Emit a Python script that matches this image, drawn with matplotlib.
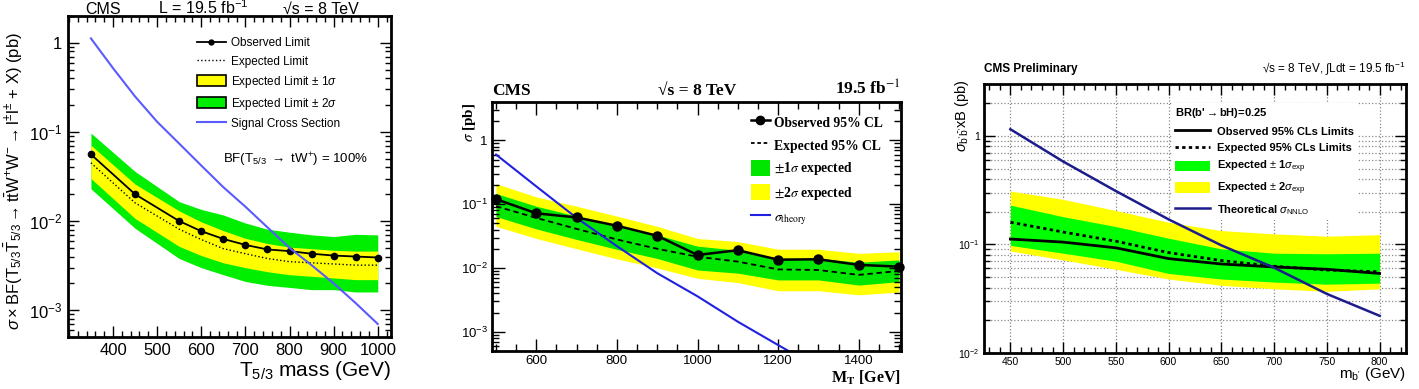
import numpy as np
import matplotlib
matplotlib.use('Agg')
import matplotlib.pyplot as plt
from matplotlib.lines import Line2D
from matplotlib.patches import Patch
from matplotlib.ticker import FuncFormatter, LogLocator, MultipleLocator, NullFormatter

plt.rcParams['font.family'] = ['Liberation Sans', 'DejaVu Sans']
plt.rcParams['mathtext.fontset'] = 'custom'
plt.rcParams['mathtext.rm'] = 'Liberation Sans'
plt.rcParams['mathtext.it'] = 'Liberation Sans:italic'
plt.rcParams['mathtext.bf'] = 'Liberation Sans:bold'

# --- left panel: T5/3 limits
t53_mass = [350, 450, 550, 600, 650, 700, 750, 800, 850, 900, 950, 1000]
t53_obs = [0.056, 0.020, 0.010, 0.0077, 0.0063, 0.0054, 0.0048, 0.0046, 0.0043, 0.0041, 0.0040, 0.0039]
t53_exp = [0.045, 0.016, 0.0081, 0.0062, 0.0049, 0.0043, 0.0038, 0.0035, 0.0034, 0.0033, 0.0032, 0.0032]
t53_1s_hi = [0.071, 0.026, 0.013, 0.0098, 0.0078, 0.0064, 0.0056, 0.0051, 0.0049, 0.0047, 0.0046, 0.0046]
t53_1s_lo = [0.030, 0.0107, 0.0052, 0.0041, 0.0034, 0.0030, 0.0027, 0.0025, 0.0024, 0.0023, 0.0022, 0.0022]
t53_2s_hi = [0.097, 0.036, 0.0165, 0.0135, 0.0117, 0.0095, 0.0081, 0.0075, 0.0070, 0.0067, 0.0071, 0.0070]
t53_2s_lo = [0.023, 0.0083, 0.0038, 0.0030, 0.0025, 0.0021, 0.0019, 0.0018, 0.0017, 0.0017, 0.0016, 0.0016]
t53_sig_mass = [350, 400, 450, 500, 550, 600, 650, 700, 750, 800, 850, 900, 950, 1000]
t53_sig = [1.12, 0.52, 0.25, 0.13, 0.074, 0.042, 0.024, 0.0145, 0.0085, 0.0050, 0.0032, 0.0020, 0.0012, 0.0007]

# --- middle panel: MT limits
mt = [500, 600, 700, 800, 900, 1000, 1100, 1200, 1300, 1400, 1500]
mt_obs = [0.12, 0.072, 0.062, 0.046, 0.032, 0.016, 0.019, 0.0135, 0.0137, 0.0112, 0.0105]
mt_exp = [0.093, 0.061, 0.041, 0.028, 0.020, 0.015, 0.0126, 0.0095, 0.0093, 0.0078, 0.0090]
mt_1s_hi = [0.147, 0.093, 0.065, 0.045, 0.033, 0.022, 0.019, 0.0142, 0.0142, 0.0123, 0.0134]
mt_1s_lo = [0.064, 0.041, 0.028, 0.0196, 0.0141, 0.0093, 0.0083, 0.0065, 0.0065, 0.0054, 0.0061]
mt_2s_hi = [0.21, 0.13, 0.093, 0.065, 0.045, 0.029, 0.026, 0.0197, 0.0197, 0.017, 0.018]
mt_2s_lo = [0.045, 0.029, 0.020, 0.0139, 0.010, 0.0069, 0.0059, 0.0044, 0.0044, 0.0038, 0.0042]
mt_th_mass = [500, 600, 700, 800, 900, 1000, 1100, 1200, 1300]
mt_th = [0.60, 0.19, 0.061, 0.022, 0.0083, 0.0036, 0.00144, 0.00062, 0.00027]

# --- right panel: b' limits
mb = [450, 500, 550, 600, 650, 700, 750, 800]
mb_obs = [0.112, 0.105, 0.093, 0.074, 0.066, 0.062, 0.059, 0.054]
mb_exp = [0.16, 0.13, 0.107, 0.084, 0.071, 0.063, 0.058, 0.056]
mb_1s_hi = [0.23, 0.18, 0.146, 0.114, 0.091, 0.083, 0.082, 0.083]
mb_1s_lo = [0.098, 0.083, 0.070, 0.054, 0.048, 0.045, 0.043, 0.044]
mb_2s_hi = [0.31, 0.26, 0.205, 0.16, 0.134, 0.125, 0.119, 0.123]
mb_2s_lo = [0.087, 0.072, 0.059, 0.048, 0.042, 0.039, 0.037, 0.039]
mb_th = [1.15, 0.58, 0.31, 0.17, 0.098, 0.061, 0.035, 0.022]

W, H = 1419, 389
fig = plt.figure(figsize=(W / 100, H / 100), dpi=100)


def box(l, r, t, b):
    return [l / W, 1 - b / H, (r - l) / W, (b - t) / H]


def px(x, y):
    return x / W, 1 - y / H


def logfmt(v, pos):
    e = int(round(np.log10(v)))
    return '1' if e == 0 else '$10^{%d}$' % e


def root_style(ax, lw=1.6, maj=8, mnr=4):
    for s in ax.spines.values():
        s.set_linewidth(lw)
    ax.tick_params(which='both', direction='in', top=True, right=True, width=1)
    ax.tick_params(which='major', length=maj)
    ax.tick_params(which='minor', length=mnr)
    ax.yaxis.set_major_locator(LogLocator(base=10))
    ax.yaxis.set_minor_locator(LogLocator(base=10, subs=np.arange(2, 10)))
    ax.yaxis.set_minor_formatter(NullFormatter())
    ax.yaxis.set_major_formatter(FuncFormatter(logfmt))


green = '#00ee00'
yellow = '#ffff00'

# ---------------- left
ax1 = fig.add_axes(box(68, 391, 16, 337))
ax1.set_yscale('log')
ax1.fill_between(t53_mass, t53_2s_lo, t53_2s_hi, color=green, lw=0)
ax1.fill_between(t53_mass, t53_1s_lo, t53_1s_hi, color=yellow, lw=0)
ax1.plot(t53_mass, t53_exp, color='k', ls=':', lw=1)
ax1.plot(t53_mass, t53_obs, color='k', lw=1.3, marker='o', ms=4.5)
ax1.plot(t53_sig_mass, t53_sig, color='#5a5aff', lw=1.5)
ax1.set_xlim(298, 1030)
ax1.set_ylim(5e-4, 2)
root_style(ax1, lw=2)
ax1.xaxis.set_major_locator(MultipleLocator(100))
ax1.xaxis.set_minor_locator(MultipleLocator(20))
ax1.tick_params(labelsize=12, pad=4)
ax1.set_xticks([400, 500, 600, 700, 800, 900, 1000])

h1 = [Line2D([], [], color='k', lw=1.3, marker='o', ms=3.5),
      Line2D([], [], color='k', ls=':', lw=1),
      Patch(fc=yellow, ec='k', lw=1.2),
      Patch(fc=green, ec='k', lw=1.2),
      Line2D([], [], color='#5a5aff', lw=1.5)]
l1 = ['Observed Limit', 'Expected Limit', 'Expected Limit $\\pm$ 1$\\sigma$',
      'Expected Limit $\\pm$ 2$\\sigma$', 'Signal Cross Section']
ax1.legend(h1, l1, loc='upper left', bbox_to_anchor=(0.40, 0.935), frameon=False,
           fontsize=8.5, handlelength=2.4, handleheight=1.05, handletextpad=0.45,
           labelspacing=0.5, borderpad=0, borderaxespad=0)
fig.text(*px(223, 163), 'BF(T$_{5/3}$ $\\rightarrow$ tW$^{+}$) = 100%', fontsize=9.5)
fig.text(*px(85, 14), 'CMS', fontsize=11.5)
fig.text(*px(158, 14), 'L = 19.5 fb$^{-1}$', fontsize=11.5)
fig.text(*px(283, 14), '√s = 8 TeV', fontsize=11.5)
fig.text(*px(391, 376), 'T$_{5/3}$ mass (GeV)', fontsize=15, ha='right')
fig.text(*px(14, 181), '$\\sigma\\times$BF(T$_{5/3}\\bar{\\rm T}_{5/3}\\rightarrow$'
         't$\\bar{\\rm t}$W$^{+}$W$^{-}\\rightarrow$l$^{\\pm}$l$^{\\pm}$ + X) (pb)',
         fontsize=12, rotation=90, ha='center', va='center')

# ---------------- middle
serif = ['Liberation Serif', 'DejaVu Serif']
ax2 = fig.add_axes(box(492, 901, 102, 351))
ax2.set_yscale('log')
ax2.fill_between(mt, mt_2s_lo, mt_2s_hi, color=yellow, lw=0)
ax2.fill_between(mt, mt_1s_lo, mt_1s_hi, color='#00e600', lw=0)
ax2.plot(mt, mt_exp, color='k', ls=(0, (3, 2)), lw=1.3)
ax2.plot(mt, mt_obs, color='k', lw=1.8, marker='o', ms=6.5, clip_on=False, zorder=5)
ax2.plot(mt_th_mass, mt_th, color='#2020e0', lw=1.5)
ax2.set_xlim(490, 1505)
ax2.set_ylim(5e-4, 4)
root_style(ax2, lw=2, maj=9, mnr=5)
ax2.xaxis.set_major_locator(MultipleLocator(200))
ax2.xaxis.set_minor_locator(MultipleLocator(50))
ax2.tick_params(labelsize=9.5, pad=3)

h2 = [Line2D([], [], color='k', lw=1.8, marker='o', ms=6),
      Line2D([], [], color='k', ls=(0, (2, 1.5)), lw=1.3),
      Patch(fc='#00e600', ec='none'),
      Patch(fc=yellow, ec='none'),
      Line2D([], [], color='#2020e0', lw=1.5)]
l2 = ['Observed 95% CL', 'Expected 95% CL', '$\\pm$1$\\sigma$ expected',
      '$\\pm$2$\\sigma$ expected', '$\\sigma_{\\rm theory}$']
ax2.legend(h2, l2, loc='upper left', bbox_to_anchor=(0.633, 0.952), frameon=False,
           prop={'family': serif, 'weight': 'bold', 'size': 9.8, 'math_fontfamily': 'stix'},
           handlelength=1.4, handleheight=1.45, handletextpad=0.3,
           labelspacing=0.5, borderpad=0, borderaxespad=0)
fig.text(*px(492, 95), 'CMS', fontsize=12.5, family=serif, weight='bold')
fig.text(*px(697, 95), '√s = 8 TeV', fontsize=12.5, family=serif, weight='bold', ha='center')
fig.text(*px(901, 95), '19.5 fb$^{-1}$', fontsize=12.5, family=serif, weight='bold', ha='right',
         math_fontfamily='stix')
fig.text(*px(901, 383), 'M$_{\\mathbf{T}}$ [GeV]', fontsize=11.5, family=serif, weight='bold',
         ha='right', math_fontfamily='stix')
fig.text(*px(470, 103), '$\\sigma$ [pb]', fontsize=11, family=serif, weight='bold',
         rotation=90, ha='center', va='top', math_fontfamily='stix')

# ---------------- right
ax3 = fig.add_axes(box(984, 1406, 84, 353))
ax3.set_yscale('log')
ax3.fill_between(mb, mb_2s_lo, mb_2s_hi, color=yellow, lw=0, zorder=2)
ax3.fill_between(mb, mb_1s_lo, mb_1s_hi, color='#00ff00', lw=0, zorder=2)
ax3.plot(mb, mb_exp, color='k', ls=(0, (1.2, 1.2)), lw=2, zorder=3)
ax3.plot(mb, mb_obs, color='k', lw=2, zorder=3)
ax3.plot(mb, mb_th, color='#1c1c8c', lw=1.8, zorder=3)
ax3.set_xlim(425, 825)
ax3.set_ylim(0.01, 3)
root_style(ax3, lw=2, maj=8, mnr=4)
ax3.xaxis.set_major_locator(MultipleLocator(50))
ax3.xaxis.set_minor_locator(MultipleLocator(10))
ax3.tick_params(labelsize=7.5, pad=3)
ax3.grid(True, which='major', axis='x', color='#888888', ls=':', lw=0.9, zorder=1)
ax3.grid(True, which='both', axis='y', color='#888888', ls=':', lw=0.9, zorder=1)
ax3.set_axisbelow(True)

h3 = [Line2D([], [], color='k', lw=2),
      Line2D([], [], color='k', ls=(0, (1.2, 1.2)), lw=2),
      Patch(fc='#00ff00', ec='none'),
      Patch(fc=yellow, ec='none'),
      Line2D([], [], color='#1c1c8c', lw=1.8)]
l3 = ['Observed 95% CLs Limits', 'Expected 95% CLs Limits',
      'Expected $\\pm$ 1$\\sigma_{\\rm exp}$', 'Expected $\\pm$ 2$\\sigma_{\\rm exp}$',
      'Theoretical $\\sigma_{\\rm NNLO}$']
leg3 = ax3.legend(h3, l3, loc='upper left', bbox_to_anchor=(0.445, 0.93),
                  title="BR(b'$\\rightarrow$bH)=0.25", alignment='left',
                  title_fontproperties={'weight': 'bold', 'size': 8},
                  prop={'weight': 'bold', 'size': 8},
                  frameon=True, fancybox=False, facecolor='white', edgecolor='none', framealpha=1,
                  handlelength=3.1, handleheight=1.1, handletextpad=0.7,
                  labelspacing=0.5, borderpad=0.3, borderaxespad=0)
leg3.set_zorder(4)
fig.text(*px(984, 72), 'CMS Preliminary', fontsize=8.5, weight='bold')
fig.text(*px(1406, 72), '√s = 8 TeV, $\\int$Ldt = 19.5 fb$^{-1}$', fontsize=8.5, ha='right')
fig.text(*px(1406, 378), "m$_{\\mathrm{b'}}$ (GeV)", fontsize=11, ha='right')
fig.text(*px(962, 80), "$\\sigma_{\\mathrm{b'\\bar{b}'}}$xB (pb)", fontsize=10.5,
         rotation=90, ha='center', va='top')

fig.savefig('out.png', dpi=100)
